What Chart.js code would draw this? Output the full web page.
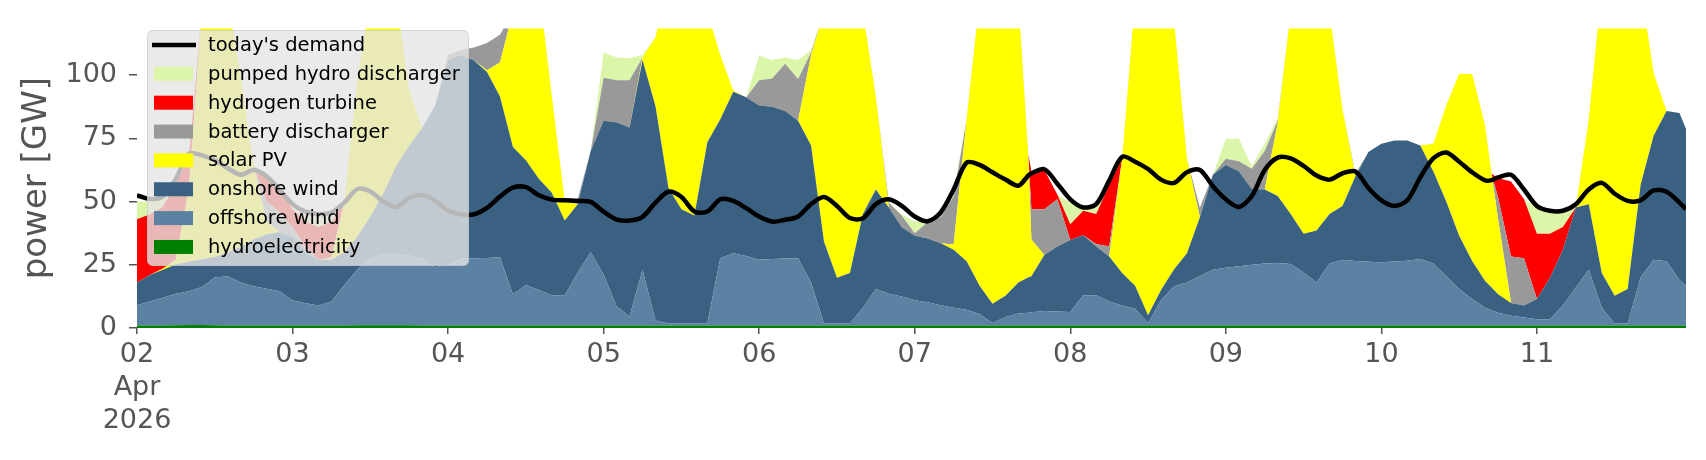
<!DOCTYPE html>
<html>
<head>
<meta charset="utf-8">
<title>Power generation</title>
<script src="https://cdn.jsdelivr.net/npm/chart.js@4.4.1/dist/chart.umd.min.js"></script>
<style>
  html, body { margin: 0; padding: 0; background: #fff; }
  #wrap { width: 1706px; height: 460px; }
</style>
</head>
<body>
<div id="wrap"><canvas id="power-chart" width="1706" height="460"></canvas></div>
<script>
// hours since 02 Apr 2026 00:00
const hours = [
  0, 2, 4, 6, 8, 10, 12, 14, 16, 18,
  20, 22, 24, 26, 28, 30, 32, 34, 36, 38,
  40, 42, 44, 46, 48, 50, 52, 54, 56, 58,
  60, 62, 64, 66, 68, 70, 72, 74, 76, 78,
  80, 82, 84, 86, 88, 90, 92, 94, 96, 98,
  100, 102, 104, 106, 108, 110, 112, 114, 116, 118,
  120, 122, 124, 126, 128, 130, 132, 134, 136, 137.5, 138,
  140, 142, 144, 146, 148, 150, 152, 154, 156, 158,
  160, 162, 164, 166, 168, 170, 172, 174, 176, 178,
  180, 182, 184, 186, 188, 190, 192, 194, 196, 198,
  200, 202, 204, 206, 208, 209, 210, 212, 214, 216, 218,
  220, 222, 224, 226, 228, 230, 232, 234, 236, 238,
  239
];

const dayLabels = [['02', 'Apr', '2026'], '03', '04', '05', '06', '07', '08', '09', '10', '11'];
const yTicks = [0, 25, 50, 75, 100];

// GW
const hydroelectricity = [
  1, 1, 1, 1.1, 1.2, 1.2, 1.1, 1, 1, 1,
  1, 1, 1, 1, 1, 1, 1, 1.1, 1.1, 1.1,
  1.1, 1.1, 1, 1, 1, 1, 1, 1, 1, 1,
  1, 1, 1, 1, 1, 1, 1, 1, 1, 1,
  1, 1, 1, 1, 1, 1, 1, 1, 1, 1,
  1, 1, 1, 1, 1, 1, 1, 1, 1, 1,
  1, 1, 1, 1, 1, 1, 1, 1, 1, 1, 1,
  1, 1, 1, 1, 1, 1, 1, 1, 1, 1,
  1, 1, 1, 1, 1, 1, 1, 1, 1, 1,
  1, 1, 1, 1, 1, 1, 1, 1, 1, 1,
  1, 1, 1, 1, 1, 1, 1, 1, 1, 1, 1,
  1, 1, 1, 1, 1, 1, 1, 1, 1, 1,
  1
];
const offshoreWind = [
  8, 9.5, 11, 12.4, 13.3, 15, 18.9, 19.5, 17, 15.5,
  14.5, 13.5, 10, 8.8, 7.9, 9.5, 16, 22, 26.5, 28,
  28, 27.7, 26.5, 23, 24, 26.5, 26.6, 26.7, 27, 12.4,
  16, 14, 12, 12, 21, 29, 20.2, 7.5, 3.5, 22,
  2, 0.8, 0.8, 0.8, 0.8, 26.6, 28.6, 27.5, 26, 26.3,
  26.5, 26.6, 17, 0.8, 0.8, 0.8, 7, 14.4, 12.5, 11.5,
  10, 9.2, 8, 7, 6.2, 4.5, 1, 3.4, 4.7, 5, 5.2,
  5.7, 5.5, 5.3, 12, 12, 9.5, 7.9, 6.6, 1, 10,
  15.5, 17, 19.5, 22, 22.8, 23.4, 24, 24.5, 24.7, 24.3,
  21, 17, 24.5, 26, 25.5, 25.2, 25, 25.3, 25.6, 26.3,
  24.5, 19.5, 14.4, 10.5, 7, 6, 5, 3.8, 3.2, 2.5, 2.5,
  7.9, 15, 22, 7, 0.8, 0.8, 19, 26, 25.4, 18,
  15.7
];
const onshoreWind = [
  9, 10.5, 11, 11.6, 11.7, 11, 8.1, 9.5, 14, 18.5,
  21.5, 23.5, 25, 20.2, 18.1, 16.5, 13, 13, 16.5, 24,
  35, 43.3, 51.5, 64, 81, 80.5, 78.2, 73.6, 63.6, 58.2,
  49.4, 44, 40.5, 29.5, 27, 40, 60.8, 72.8, 74.8, 83,
  84.7, 53.6, 45.2, 42.7, 71.7, 55, 63.9, 62.8, 61, 60.2,
  58.3, 54.4, 54.2, 32.3, 18.1, 20, 37.1, 39.4, 34.2, 27.4,
  25.5, 25.2, 24.5, 23, 19.2, 11.2, 7.6, 8.4, 12.3, 14, 14.3,
  22.2, 25.7, 28.5, 23.7, 19.2, 17.8, 12.9, 9.1, 3, 4,
  6.6, 11.6, 23.3, 37.6, 40.7, 37.6, 30, 29.3, 26.5, 19.8,
  15.3, 20.6, 19.6, 21.3, 33.5, 43.4, 46.9, 47.9, 47.6, 44.9,
  36.5, 29.5, 21.1, 15, 10.6, 9, 7.4, 5.1, 4.7, 8, 16.4,
  22, 31.7, 26, 13.8, 11, 13.6, 36.7, 49.1, 59.4, 66.1,
  62
];
const solarPV = [
  0, 0, 0.5, 2, 29, 98, 107, 100, 68, 29,
  5, 0, 0, 0, 0, 0.5, 20, 62, 86, 82,
  66, 22, 0, 0, 0, 0, 0, 0.7, 13.4, 53.4,
  68.6, 76, 38.5, 7.5, 0, 0, 0, 0, 0, 1,
  27.3, 84.6, 93, 90.5, 51.5, 25.4, 0.5, 0, 0, 0,
  0, 0, 35.8, 90.9, 115.1, 113.2, 79.9, 36.8, 0, 0,
  0, 0, 0, 2, 56.2, 113.3, 130.4, 127.2, 112, 49, 14.5,
  0, 0, 0, 0, 0, 0, 45.2, 113.3, 130, 115,
  98.9, 37.4, 0, 0, 0, 0, 0, 0, 28.8, 79.9,
  97.7, 96.4, 79.9, 38.1, 0, 0, 0, 0, 0, 0,
  10.9, 38, 64.1, 74, 61.4, 45, 29.9, 0, 0, 0, 0,
  0, 0, 33.6, 113.2, 122.2, 119.6, 78.3, 24.9, 0, 0,
  0
];
const batteryDischarger = [
  0, 0, 0, 0, 0, 0, 0, 0, 0, 0,
  8, 8, 4, 2, 0, 0.5, 0, 0, 0, 0,
  0, 0, 0, 0, 2, 2, 5.2, 10.7, 11, 0,
  0, 0, 0, 0, 2, 0, 17, 16.7, 18.7, 0,
  0, 0, 0, 0, 0, 0, 0, 0, 10, 11.2,
  18.7, 16.5, 1, 0, 0, 0, 0, 0, 1.9, 4.5,
  1, 6.5, 10.3, 19, 0, 0, 0, 0, 0, 0, 12,
  18.1, 18.7, 0, 0, 1, 3.9, 0, 0, 0, 0,
  0, 0, 3.9, 0, 2.5, 4, 8, 15.2, 1, 0,
  0, 0, 0, 0, 1, 0, 0, 0, 0, 0,
  0, 0, 0, 0, 0, 0, 8.3, 18.4, 18.7, 0, 0,
  0, 0, 0, 0, 0, 0, 0, 0, 0, 0,
  0
];
const hydrogenTurbine = [
  25, 24, 24.5, 30, 12, 0, 0, 0, 0, 0,
  10, 9, 7, 10, 13, 14, 0, 0, 0, 0,
  0, 0, 0, 0, 0, 0, 0, 0, 0, 0,
  0, 0, 0, 0, 0, 0, 0, 0, 0, 0,
  0, 0, 0, 0, 0, 0, 0, 0, 0, 0,
  0, 0, 0, 0, 0, 0, 0, 0, 0, 0,
  0, 0, 0, 0, 0, 0, 0, 0, 0, 0, 15,
  15.5, 1.9, 6.2, 9.7, 11.9, 24.5, 0, 0, 0, 0,
  0, 0, 0, 0, 0, 0, 0, 0, 0, 0,
  0, 0, 0, 0, 0, 0, 0, 0, 0, 0,
  0, 0, 0, 0, 0, 0, 7.7, 29.7, 23.4, 25.8, 17.4,
  9.1, 0, 0, 0, 0, 0, 0, 0, 0, 0,
  0
];
const pumpedHydro = [
  7, 5, 3, 1, 1, 0, 0, 0, 0, 0,
  0, 0, 3, 4, 5, 4, 0, 0, 0, 0,
  0, 0, 0, 0, 0, 0, 0, 0, 0, 0,
  0, 0, 0, 0, 0, 0, 10, 9, 8.7, 1,
  0, 0, 0, 0, 0, 0, 0, 0, 9.8, 7.3,
  2.5, 7.5, 1, 0, 0, 0, 0, 0, 0, 0.6,
  4.5, 0.6, 1.3, 2, 0, 0, 0, 0, 0, 0, 0,
  0, 0, 8.6, 1.9, 3.9, 1.3, 0, 0, 0, 0,
  0, 0, 0, 0, 7.8, 9, 1, 3, 1, 0,
  0, 0, 0, 0, 0, 0, 0, 0, 0, 0,
  0, 0, 0, 0, 0, 0, 0, 0, 0, 10.4, 9.7,
  6, 0.3, 0, 0, 0, 0, 0, 0, 0, 0,
  0
];
const demand = [
  52.5, 51, 52, 59, 69, 68.3, 66.4, 63.2, 60.6, 62.5,
  60, 54.8, 49, 46, 45.1, 45.7, 49.6, 55, 54, 50,
  47.8, 51.5, 52.6, 50.4, 46.5, 45, 45, 47.5, 52, 55.5,
  55.7, 52.5, 50.8, 50.5, 50.3, 49.9, 46, 42.9, 42.5, 44,
  49.6, 53.9, 51.8, 46.1, 46.1, 50.9, 50.3, 47.4, 44.1, 42.1,
  42.8, 44.1, 49, 51.8, 48.3, 43.5, 43.4, 49, 50.9, 48.3,
  44.1, 42.2, 45.7, 54.8, 65.4, 64.5, 61.6, 58.7, 56.3, 60.3, 61.2,
  62.8, 57.1, 50.9, 47.7, 49, 58.3, 67.7, 65.8, 62.9, 58.7,
  57.4, 61.6, 62.5, 56.1, 50.9, 47.9, 52.2, 62.5, 67.4, 67.1,
  64.1, 60.3, 58.7, 61.2, 61.9, 55.4, 50.5, 48.3, 50.5, 59.6,
  67.1, 69.4, 65.8, 61.6, 58.4, 58.5, 59.6, 60.6, 54.8, 48.3, 46.4,
  46.4, 49, 54.8, 57.4, 53.1, 50.3, 50.5, 54.4, 53.9, 49.6,
  47
];

const FONT = "'DejaVu Sans', sans-serif";
Chart.defaults.font.family = FONT;

function toPoints(values) {
    return hours.map(function (h, i) { return { x: h, y: values[i] }; });
}

function area(label, values, color, fill) {
    return {
        label: label,
        data: toPoints(values),
        backgroundColor: color,
        borderColor: color,
        borderWidth: 0,
        pointRadius: 0,
        fill: fill,
        stack: 'generation',
        tension: 0
    };
}

const datasets = [
    {
        label: "today's demand",
        data: toPoints(demand),
        borderColor: '#000000',
        borderWidth: 4.5,
        pointRadius: 0,
        fill: false,
        stack: 'demand',
        tension: 0.3,
        isLine: true
    },
    area('hydroelectricity', hydroelectricity, '#008000', 'origin'),
    area('offshore wind', offshoreWind, '#5c82a3', '-1'),
    area('onshore wind', onshoreWind, '#3b6182', '-1'),
    area('solar PV', solarPV, '#ffff00', '-1'),
    area('battery discharger', batteryDischarger, '#999999', '-1'),
    area('hydrogen turbine', hydrogenTurbine, '#ff0000', '-1'),
    area('pumped hydro discharger', pumpedHydro, '#dbf5a9', '-1')
];

// legend rows, top to bottom
const legendOrder = [0, 7, 6, 5, 4, 3, 2, 1];

const boxLegend = {
    id: 'boxLegend',
    afterDraw: function (chart) {
        const ctx = chart.ctx;
        ctx.save();
        ctx.beginPath();
        ctx.roundRect(147.5, 30.5, 321, 235, 5);
        ctx.fillStyle = 'rgba(229, 229, 229, 0.8)';
        ctx.fill();
        ctx.strokeStyle = 'rgba(204, 204, 204, 0.8)';
        ctx.lineWidth = 1;
        ctx.stroke();

        ctx.font = '19.5px ' + FONT;
        ctx.textBaseline = 'middle';
        legendOrder.forEach(function (idx, row) {
            const ds = chart.data.datasets[idx];
            const y = 45 + row * 28.85;
            if (ds.isLine) {
                ctx.beginPath();
                ctx.moveTo(152, y);
                ctx.lineTo(196, y);
                ctx.strokeStyle = ds.borderColor;
                ctx.lineWidth = 4.5;
                ctx.stroke();
            } else {
                ctx.fillStyle = ds.backgroundColor;
                ctx.fillRect(154, y - 7, 39, 14);
            }
            ctx.fillStyle = '#000000';
            ctx.fillText(ds.label, 208, y + 1);
        });
        ctx.restore();
    }
};

new Chart(document.getElementById('power-chart'), {
    type: 'line',
    data: { datasets: datasets },
    options: {
        responsive: false,
        animation: false,
        events: [],
        layout: { padding: { top: 22, right: 20, bottom: 0, left: 0 } },
        plugins: {
            legend: { display: false },
            tooltip: { enabled: false }
        },
        scales: {
            x: {
                type: 'linear',
                min: 0,
                max: 239,
                border: { display: false },
                grid: { drawOnChartArea: false, tickLength: 6, color: '#555555', lineWidth: 1.5 },
                ticks: {
                    stepSize: 24,
                    includeBounds: false,
                    autoSkip: false,
                    maxRotation: 0,
                    color: '#555555',
                    padding: 5,
                    font: { size: 27, lineHeight: 1.22 },
                    callback: function (value) {
                        return value % 24 === 0 ? dayLabels[value / 24] : '';
                    }
                },
                afterFit: function (scale) { scale.height = 132; }
            },
            y: {
                stacked: true,
                min: 0,
                max: 118.6,
                border: { display: false },
                grid: { drawOnChartArea: false, tickLength: 8, color: '#555555', lineWidth: 1.5 },
                afterBuildTicks: function (scale) {
                    scale.ticks = yTicks.map(function (v) { return { value: v }; });
                },
                ticks: { color: '#555555', padding: 12, font: { size: 27 } },
                title: {
                    display: true,
                    text: 'power [GW]',
                    color: '#555555',
                    font: { size: 34 },
                    padding: { top: 17, bottom: 0 }
                },
                afterFit: function (scale) { scale.width = 137; }
            }
        }
    },
    plugins: [boxLegend]
});
</script>
</body>
</html>
